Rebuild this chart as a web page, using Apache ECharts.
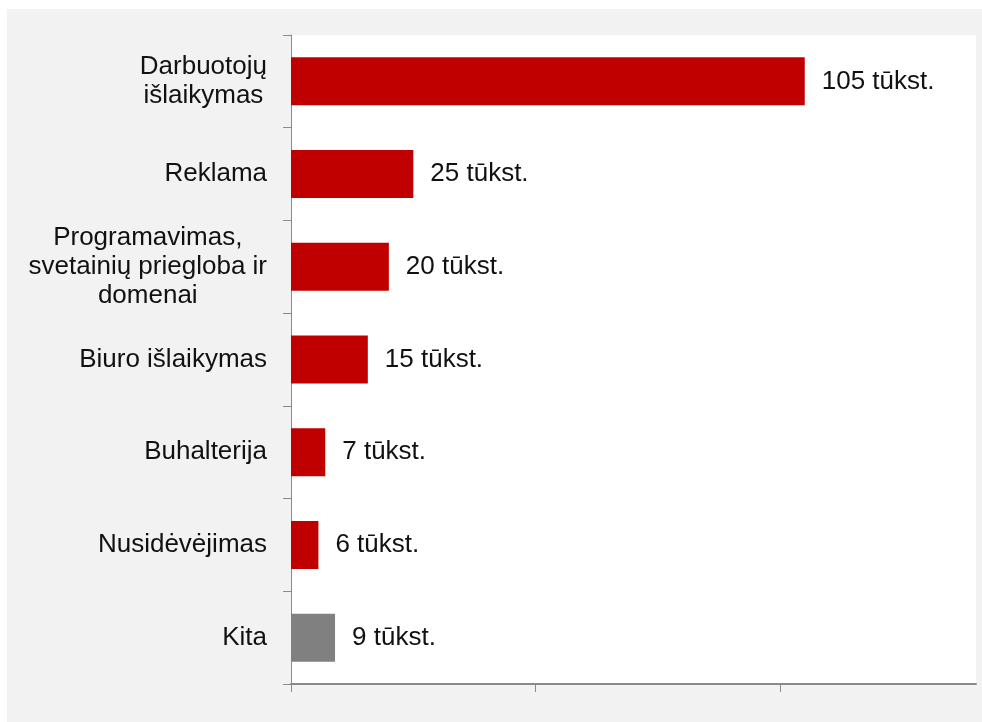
<!DOCTYPE html>
<html>
<head>
<meta charset="utf-8">
<script src="https://cdn.jsdelivr.net/npm/echarts@6/dist/echarts.min.js"></script>
<style>
  html, body { margin: 0; padding: 0; background: #ffffff; }
  #chart { position: absolute; left: 7px; top: 9px; width: 975px; height: 713px; }
</style>
</head>
<body>
<div id="chart"></div>
<script>
const categories = [
  "Darbuotojų\nišlaikymas",
  "Reklama",
  "Programavimas,\nsvetainių priegloba ir\ndomenai",
  "Biuro išlaikymas",
  "Buhalterija",
  "Nusidėvėjimas",
  "Kita"
];
const values = [105, 25, 20, 15.7, 7, 5.6, 9];
const valueLabels = ["105 tūkst.", "25 tūkst.", "20 tūkst.", "15 tūkst.", "7 tūkst.", "6 tūkst.", "9 tūkst."];
const barColors = ["#C00000", "#C00000", "#C00000", "#C00000", "#C00000", "#C00000", "#808080"];
const xTicks = [0, 50, 100];

const FONT = "'Liberation Sans', Arial, sans-serif";
const FS = 26;
const chart = echarts.init(document.getElementById('chart'));
chart.setOption({
  backgroundColor: '#f2f2f2',
  animation: false,
  grid: {
    left: 284, right: 6, top: 26, bottom: 38,
    show: true, backgroundColor: '#ffffff', borderWidth: 0
  },
  xAxis: {
    type: 'value', min: 0, max: 140,
    axisLine: { show: true, lineStyle: { color: '#8a8a8a', width: 2 } },
    axisTick: { show: true, length: 8, customValues: xTicks, lineStyle: { color: '#8a8a8a', width: 1 } },
    axisLabel: { show: false },
    splitLine: { show: false }
  },
  yAxis: {
    type: 'category', inverse: true, data: categories,
    axisLine: { show: true, lineStyle: { color: '#8a8a8a', width: 1 } },
    axisTick: { show: true, length: 8, alignWithLabel: false, interval: 0, lineStyle: { color: '#8a8a8a', width: 1 } },
    axisLabel: {
      interval: 0, margin: 24, align: 'right',
      fontFamily: FONT, fontSize: FS, color: '#111111', lineHeight: 29,
      formatter: v => v.split('\n').map(l => '{c|' + l + '}').join('\n'),
      rich: { c: { align: 'center', fontFamily: FONT, fontSize: FS, color: '#111111', lineHeight: 29 } }
    },
    splitLine: { show: false }
  },
  series: [{
    type: 'bar',
    barWidth: 48,
    data: values.map((v, i) => ({ value: v, itemStyle: { color: barColors[i] } })),
    label: {
      show: true, position: 'right', distance: 17,
      fontFamily: FONT, fontSize: FS, color: '#111111',
      formatter: p => valueLabels[p.dataIndex]
    }
  }]
});
</script>
</body>
</html>
